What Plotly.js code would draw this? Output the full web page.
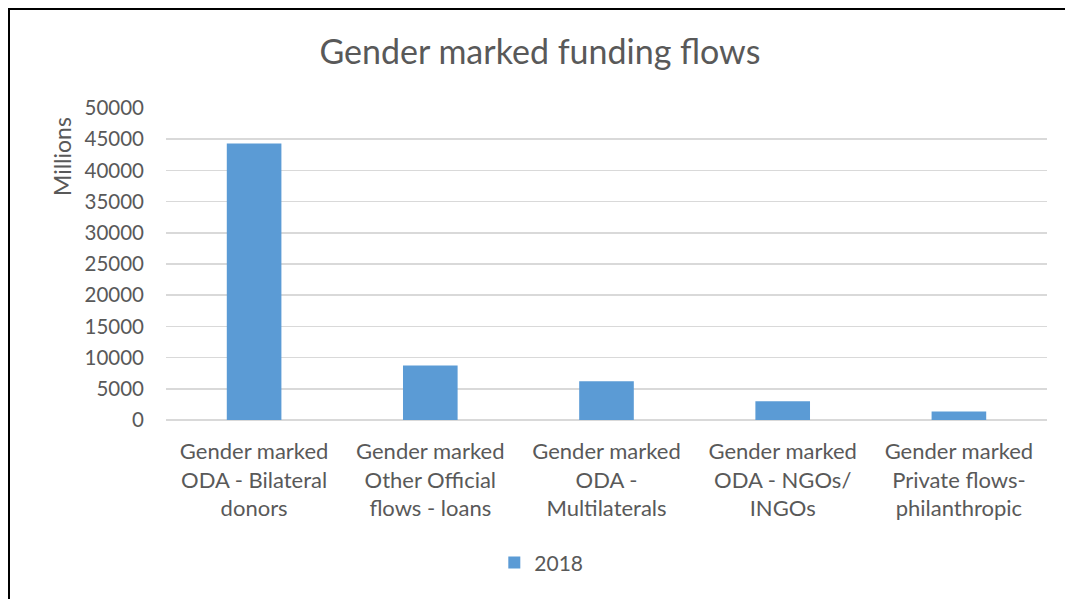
<!DOCTYPE html>
<html>
<head>
<meta charset="utf-8">
<script src="https://cdn.plot.ly/plotly-3.0.1.min.js"></script>
<style>
  html, body { margin: 0; padding: 0; background: #fff; overflow: hidden; }
  #chart { width: 1065px; height: 599px; position: absolute; left: 0; top: 0; }
  #frame { position: absolute; left: 8px; top: 8px; width: 1200px; height: 800px;
           border-top: 2px solid #000; border-left: 2px solid #000; pointer-events: none; }
</style>
</head>
<body>
<div id="chart"></div>
<div id="frame"></div>
<script>
const categories = [
  "Gender marked ODA - Bilateral donors",
  "Gender marked Other Official flows - loans",
  "Gender marked ODA - Multilaterals",
  "Gender marked ODA - NGOs/ INGOs",
  "Gender marked Private flows-philanthropic"
];
const tickLabels = [
  "Gender marked<br>ODA - Bilateral<br>donors",
  "Gender marked<br>Other Official<br>flows - loans",
  "Gender marked<br>ODA -<br>Multilaterals",
  "Gender marked<br>ODA - NGOs/<br>INGOs",
  "Gender marked<br>Private flows-<br>philanthropic"
];
const seriesName = "2018";
const values2018 = [44300, 8750, 6200, 3000, 1350];
const yTicks = [0, 5000, 10000, 15000, 20000, 25000, 30000, 35000, 40000, 45000, 50000];

const FONT = "Lato, 'Open Sans', sans-serif";
const TXT = "#595959";

const trace = {
  type: "bar",
  x: categories,
  y: values2018,
  name: seriesName,
  marker: { color: "#5B9BD5", line: { width: 0 } },
  hoverinfo: "x+y"
};

const layout = {
  width: 1065,
  height: 599,
  paper_bgcolor: "#ffffff",
  plot_bgcolor: "#ffffff",
  margin: { l: 166, r: 18, t: 108, b: 179 },
  font: { family: FONT, color: TXT },
  title: {
    text: "Gender marked funding flows",
    font: { family: FONT, size: 34, color: TXT },
    x: 0.507, xref: "container", xanchor: "center",
    y: 0.913, yref: "container", yanchor: "middle"
  },
  bargap: 0.69,
  showlegend: true,
  legend: {
    orientation: "h",
    x: 0.426, xanchor: "center",
    y: -0.458, yanchor: "middle",
    font: { family: FONT, size: 21, color: TXT }
  },
  xaxis: {
    type: "category",
    tickmode: "array",
    tickvals: categories,
    ticktext: tickLabels,
    tickfont: { family: FONT, size: 22, color: TXT },
    tickangle: 0,
    ticks: "",
    showline: false,
    showgrid: false,
    zeroline: false,
    ticklabelstandoff: 16
  },
  yaxis: {
    range: [0, 50000],
    tickmode: "array",
    tickvals: yTicks,
    ticktext: yTicks.map(String),
    tickfont: { family: FONT, size: 20.5, color: TXT },
    ticks: "",
    showgrid: true,
    gridcolor: "#D9D9D9",
    gridwidth: 1.5,
    zeroline: true,
    zerolinecolor: "#D9D9D9",
    zerolinewidth: 1.5,
    showline: false,
    ticklabelstandoff: 21
  },
  annotations: [{
    text: "Millions",
    xref: "paper", yref: "paper",
    x: -0.118, y: 0.843,
    xanchor: "center", yanchor: "middle",
    textangle: -90,
    showarrow: false,
    font: { family: FONT, size: 23, color: TXT }
  }]
};

Plotly.newPlot("chart", [trace], layout, { displayModeBar: false, staticPlot: true });
</script>
</body>
</html>
